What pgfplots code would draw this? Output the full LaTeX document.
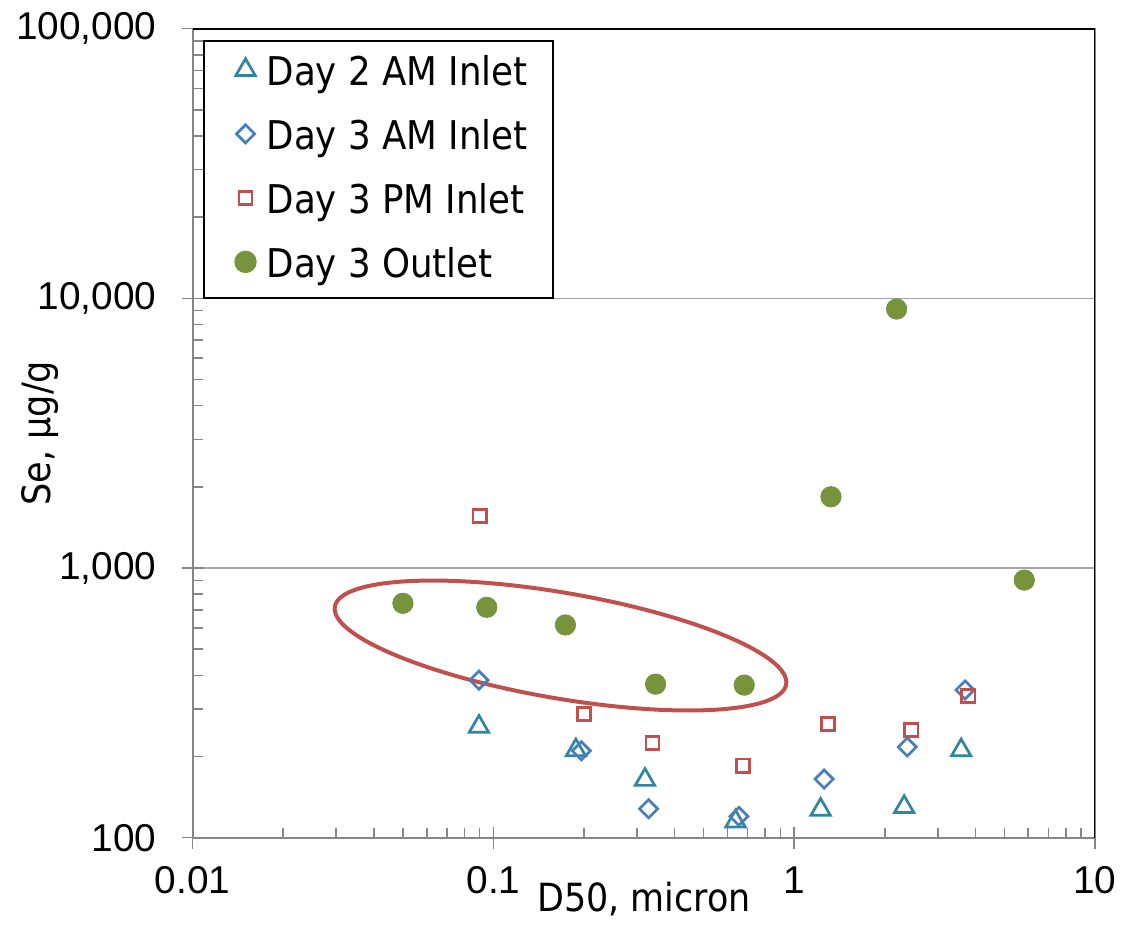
\documentclass[border=0pt]{standalone}
\usepackage{pgfplots}
\pgfplotsset{compat=1.18}
\usepackage{fontspec}
\setmainfont{Liberation Sans}
\newfontfamily\condfont{DejaVu Sans Condensed}
\definecolor{cTeal}{HTML}{31859C}
\definecolor{cBlue}{HTML}{4A7EBB}
\definecolor{cRed}{HTML}{C0504D}
\definecolor{cGreen}{HTML}{77933C}
\definecolor{cAxis}{HTML}{868686}
\definecolor{cGrid}{HTML}{A6A6A6}
\begin{document}
\begin{tikzpicture}
\begin{axis}[
  name=ax,
  xmode=log, ymode=log,
  scale only axis,
  width=451.15pt, height=404.5pt,
  xmin=0.01, xmax=10, ymin=100, ymax=100000,
  xtick={0.01,0.1,1,10},
  xticklabels={\mbox{0.01},\mbox{0.1},\mbox{1},\mbox{10}},
  ytick={100,1000,10000,100000},
  yticklabels={\mbox{100},\mbox{1,000},\mbox{10,000},\mbox{100,000}},
  xtick pos=left, ytick pos=left,
  tick align=center,
  major tick length=11pt,
  minor tick style={draw=none},
  tick style={color=cAxis, line width=0.8pt},
  extra x ticks={0.02,0.03,0.04,0.05,0.06,0.07,0.08,0.09,0.2,0.3,0.4,0.5,0.6,0.7,0.8,0.9,2,3,4,5,6,7,8,9},
  extra y ticks={200,300,400,500,600,700,800,900,2000,3000,4000,5000,6000,7000,8000,9000,20000,30000,40000,50000,60000,70000,80000,90000},
  extra x tick labels={},
  extra y tick labels={},
  extra tick style={tick align=inside, major tick length=5pt, grid=none},
  ymajorgrids=true,
  major grid style={color=cGrid, line width=0.8pt},
  axis line style={color=cAxis, line width=0.85pt},
  ticklabel style={font=\fontsize{19.4}{23}\selectfont},
  xticklabel style={anchor=base, yshift=-22.5pt},
  yticklabel style={anchor=east, inner sep=0pt, xshift=-12.5pt},
  xlabel={D50, micron},
  ylabel={Se, µg/g},
  xlabel style={font=\condfont\fontsize{19.4}{23}\selectfont, at={([yshift=-37.15pt]axis description cs:0.5,0)}, anchor=base},
  ylabel style={font=\condfont\fontsize{19.5}{23}\selectfont, at={([xshift=-71.3pt]axis description cs:0,0.5)}, anchor=base, rotate=0},
  legend cell align=left,
  legend image code/.code={\path (0pt,0pt) (17.5pt,0pt); \draw[#1] plot coordinates {(7.6pt,1.8pt)};},
  legend style={at={(axis description cs:0,1)}, anchor=north west, xshift=5.15pt, yshift=-5.65pt,
    draw=black, line width=1pt, inner xsep=12.5pt, inner ysep=5.25pt, row sep=10pt,
    font=\condfont\fontsize{19.8}{23}\selectfont,
    nodes={inner sep=0pt, text height=17pt, text depth=5pt},
    /tikz/every odd column/.append style={column sep=0pt}},
]
\addplot[only marks, mark=triangle, mark size=5.6pt, color=cTeal, line width=1.35pt] coordinates {
(0.0895,258) (0.188,211) (0.319,164) (0.638,115) (1.224,127) (2.32,130) (3.59,211)};
\addlegendentry{Day 2 AM Inlet}
\addplot[only marks, mark=square, mark size=3.2pt, mark options={rotate=45}, color=cBlue, line width=1.35pt] coordinates {
(0.0895,384) (0.196,210) (0.328,128) (0.655,120) (1.257,165) (2.377,217) (3.70,353)};
\addlegendentry{Day 3 AM Inlet}
\addplot[only marks, mark=square, mark size=3.3pt, color=cRed, line width=1.35pt] coordinates {
(0.090,1559) (0.200,287) (0.338,224) (0.675,185) (1.297,264) (2.452,251) (3.79,335)};
\addlegendentry{Day 3 PM Inlet}
\addplot[only marks, mark=*, mark size=5.1pt, color=cGreen, mark options={fill=cGreen, draw=cGreen}] coordinates {
(0.050,740) (0.095,715) (0.1735,615) (0.346,371) (0.682,368) (1.325,1838) (2.19,9126) (5.82,902)};
\addlegendentry{Day 3 Outlet}
\draw[cRed, line width=2pt, rotate around={-9.78:(axis cs:0.1671,516)}] (axis cs:0.1671,516) ellipse [x radius=114.5pt, y radius=26.4pt];
\draw[black, line width=1pt] (rel axis cs:0,1) -- (rel axis cs:1,1) -- (rel axis cs:1,0);
\coordinate (O) at (rel axis cs:0,0);
\end{axis}
\pgfresetboundingbox
\path[use as bounding box] ([shift={(-96.35pt,-49.15pt)}]O) rectangle ++(562pt,468pt);
\end{tikzpicture}
\end{document}
